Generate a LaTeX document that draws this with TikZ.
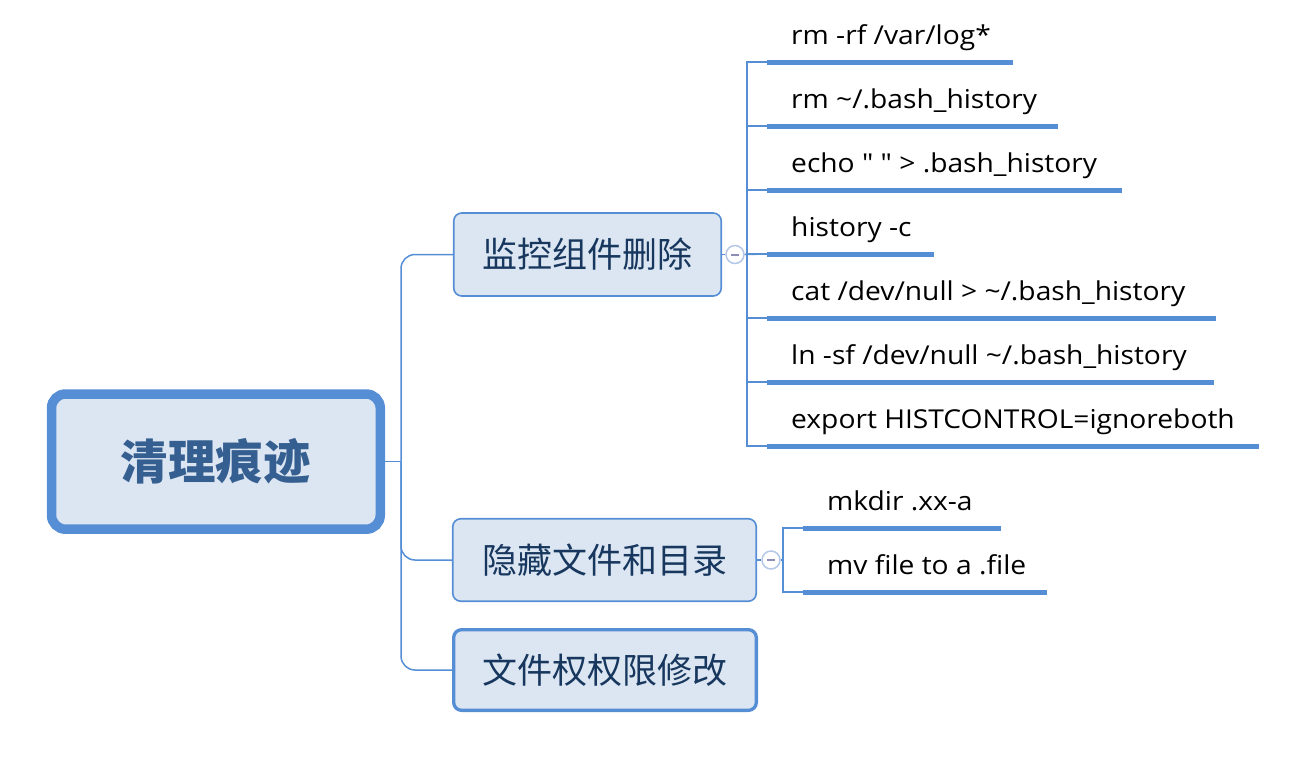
\documentclass[tikz,border=0pt]{standalone}
\usepackage{fontspec}
\setmainfont{Open Sans}
\newfontfamily\cjk{Noto Sans CJK SC}
\newfontfamily\cmdfont[FakeStretch=1.084]{Open Sans}
\definecolor{lineblue}{HTML}{558ED5}
\definecolor{boxfill}{HTML}{DCE6F2}
\definecolor{roottext}{HTML}{365F91}
\definecolor{branchtext}{HTML}{17375E}
\definecolor{circline}{HTML}{B4C7E7}
\definecolor{minuscol}{HTML}{8E8EB4}
\newcommand\leafbox[2]{\makebox[#1pt][l]{\hspace{24pt}#2}}
\begin{document}
\begin{tikzpicture}[x=1pt,y=-1pt,
  conn/.style={draw=lineblue, line width=1.5pt},
  uline/.style={draw=lineblue, line width=5pt},
  rootbox/.style={draw=lineblue, fill=boxfill, line width=9.5pt, rounded corners=14pt, inner sep=0pt,
    minimum width=328.7pt, minimum height=135.2pt, font=\cjk\bfseries\fontsize{47.5}{50}\selectfont, text=roottext},
  branchbox/.style={draw=lineblue, fill=boxfill, line width=1.6pt, rounded corners=8pt, inner sep=0pt,
    minimum height=83pt, font=\cjk\fontsize{35}{38}\selectfont, text=branchtext},
  leaf/.style={inner xsep=0pt, inner ysep=0pt, anchor=south west, text height=22pt, text depth=17pt,
    font=\cmdfont\fontsize{26}{28}\selectfont, text=black},
  collapse/.style={circle, draw=circline, fill=white, line width=1.5pt, minimum size=18pt, inner sep=0pt},
  minusmark/.style={draw=minuscol, line width=2pt}
]
\useasboundingbox (0,0) rectangle (1298,772);

% root and branches
\node[rootbox] (root) at (215.9,461.6) {清理痕迹};
\node[branchbox, minimum width=267.5pt] (b1) at (587.5,254.5) {监控组件删除};
\node[branchbox, minimum width=303.5pt, minimum height=82.5pt] (b2) at (604.5,560) {隐藏文件和目录};
\node[branchbox, line width=3.3pt, minimum width=302.7pt, minimum height=80.7pt] (b3) at (605,670) {文件权权限修改};

\coordinate (tr) at (401,461.6);
\draw[conn] (root.east) -- (tr);
\draw[conn, rounded corners=14pt] (tr) |- (b1.west);
\draw[conn, rounded corners=14pt] (tr) |- (b2.west);
\draw[conn, rounded corners=14pt] (tr) |- (b3.west);

% collapse markers
\node[collapse] (c1) at (735,254.5) {};
\node[collapse] (c2) at (771,560) {};
\draw[minusmark] ([xshift=-4pt]c1.center) -- ([xshift=4pt]c1.center);
\draw[minusmark] ([xshift=-4pt]c2.center) -- ([xshift=4pt]c2.center);
\draw[conn] (b1.east) -- (c1.west);
\draw[conn] (b2.east) -- (c2.west);

% leaves of branch 1
\node[leaf] (l1) at (767,62) {\leafbox{246}{rm -rf /var/log*}};
\node[leaf] (l2) at (767,126) {\leafbox{291}{rm \textasciitilde/.bash\_history}};
\node[leaf] (l3) at (767,190) {\leafbox{355}{echo " " > .bash\_history}};
\node[leaf] (l4) at (767,254) {\leafbox{167}{history -c}};
\node[leaf] (l5) at (767,318) {\leafbox{449}{cat /dev/null > \textasciitilde/.bash\_history}};
\node[leaf] (l6) at (767,382) {\leafbox{447}{ln -sf /dev/null \textasciitilde/.bash\_history}};
\node[leaf] (l7) at (767,446) {\leafbox{492}{export HISTCONTROL=ignoreboth}};
\foreach \n in {l1,l2,l3,l4,l5,l6,l7}{
  \draw[uline] (\n.south west) -- (\n.south east);
  \draw[conn] (\n.south west) -- ++(-20,0);
}
\draw[conn] (l1.south west) -- ++(-20,0) |- (l7.south west);
\draw[conn] (c1.east) -- (l4.south west);

% leaves of branch 2
\node[leaf] (m1) at (803,528) {\leafbox{198}{mkdir .xx-a}};
\node[leaf] (m2) at (803,592) {\leafbox{244}{mv file to a .file}};
\foreach \n in {m1,m2}{
  \draw[uline] (\n.south west) -- (\n.south east);
}
\draw[conn] (m1.south west) -- ++(-20,0) |- (m2.south west);
\coordinate (v2) at (783,560);
\draw[conn] (c2.east) -- (v2);
\end{tikzpicture}
\end{document}
